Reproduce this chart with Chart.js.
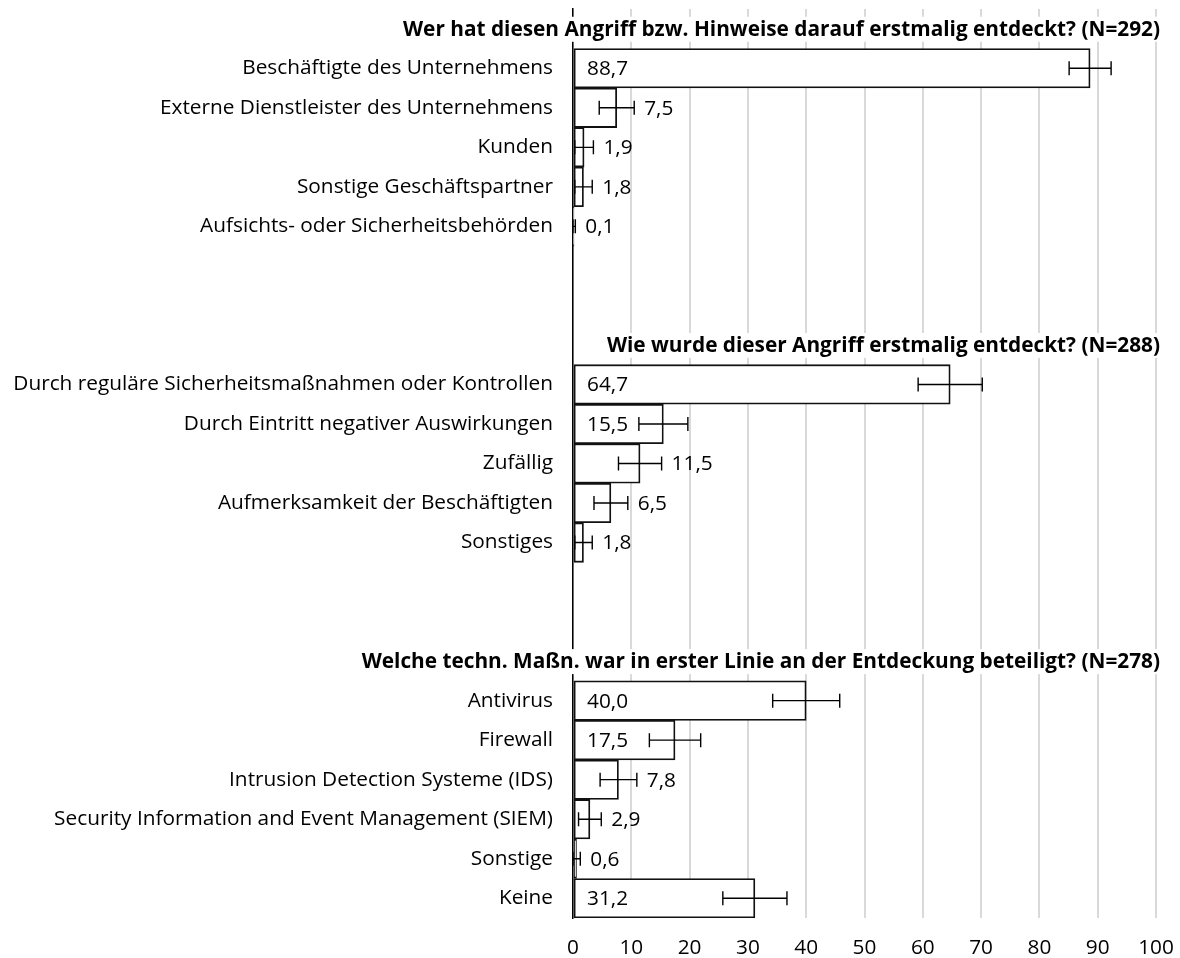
<!DOCTYPE html>
<html>
<head>
<meta charset="utf-8">
<script src="https://cdn.jsdelivr.net/npm/chart.js@4.4.1/dist/chart.umd.min.js"></script>
<style>
  html, body { margin: 0; padding: 0; background: #fff; }
  #wrap { width: 1180px; height: 958px; position: relative; }
</style>
</head>
<body>
<div id="wrap"><canvas id="chart"></canvas></div>
<script>
// question titles, one per block
const groupTitles = [
    'Wer hat diesen Angriff bzw. Hinweise darauf erstmalig entdeckt? (N=292)',
    'Wie wurde dieser Angriff erstmalig entdeckt? (N=288)',
    'Welche techn. Maßn. war in erster Linie an der Entdeckung beteiligt? (N=278)'
];

const labelsWho = ['Beschäftigte des Unternehmens', 'Externe Dienstleister des Unternehmens', 'Kunden', 'Sonstige Geschäftspartner', 'Aufsichts- oder Sicherheitsbehörden'];
const valuesWho = [88.7, 7.5, 1.9, 1.8, 0.1];
const errorsWho = [3.6, 3.0, 1.6, 1.5, 0.3];

const labelsHow = ['Durch reguläre Sicherheitsmaßnahmen oder Kontrollen', 'Durch Eintritt negativer Auswirkungen', 'Zufällig', 'Aufmerksamkeit der Beschäftigten', 'Sonstiges'];
const valuesHow = [64.7, 15.5, 11.5, 6.5, 1.8];
const errorsHow = [5.5, 4.2, 3.7, 2.9, 1.5];

const labelsTech = ['Antivirus', 'Firewall', 'Intrusion Detection Systeme (IDS)', 'Security Information and Event Management (SIEM)', 'Sonstige', 'Keine'];
const valuesTech = [40.0, 17.5, 7.8, 2.9, 0.6, 31.2];
const errorsTech = [5.75, 4.4, 3.15, 1.95, 0.65, 5.5];

const xMin = 0, xMax = 100, xStep = 10;

const FONT = '"Open Sans", sans-serif';
const FONT_SIZE = 20.8;

// flatten the three blocks into one category axis (title row + items + 2 spacer rows)
const groups = [
    { labels: labelsWho, values: valuesWho, errors: errorsWho },
    { labels: labelsHow, values: valuesHow, errors: errorsHow },
    { labels: labelsTech, values: valuesTech, errors: errorsTech }
];
const rowLabels = [], rowValues = [], rowErrors = [], rowTitles = [];
groups.forEach((g, gi) => {
    rowLabels.push(''); rowValues.push(null); rowErrors.push(null); rowTitles.push(groupTitles[gi]);
    g.labels.forEach((l, i) => {
        rowLabels.push(l); rowValues.push(g.values[i]); rowErrors.push(g.errors[i]); rowTitles.push(null);
    });
    if (gi < groups.length - 1) {
        for (let k = 0; k < 2; k++) {
            rowLabels.push(''); rowValues.push(null); rowErrors.push(null); rowTitles.push(null);
        }
    }
});

const fmt = v => v.toFixed(1).replace('.', ',');

const overlayPlugin = {
    id: 'overlay',
    afterDatasetsDraw(chart) {
        const ctx = chart.ctx;
        const xs = chart.scales.x, ys = chart.scales.y;
        const area = chart.chartArea;
        ctx.save();
        // error bars
        ctx.strokeStyle = '#000';
        ctx.lineWidth = 1.4;
        rowValues.forEach((v, i) => {
            if (v == null) return;
            const y = ys.getPixelForValue(i);
            const lo = xs.getPixelForValue(Math.max(0, v - rowErrors[i]));
            const hi = xs.getPixelForValue(v + rowErrors[i]);
            ctx.beginPath();
            ctx.moveTo(lo, y); ctx.lineTo(hi, y);
            ctx.moveTo(lo, y - 7); ctx.lineTo(lo, y + 7);
            ctx.moveTo(hi, y - 7); ctx.lineTo(hi, y + 7);
            ctx.stroke();
        });
        // value labels
        ctx.fillStyle = '#000';
        ctx.font = FONT_SIZE + 'px ' + FONT;
        ctx.textBaseline = 'middle';
        ctx.textAlign = 'left';
        rowValues.forEach((v, i) => {
            if (v == null) return;
            const y = ys.getPixelForValue(i);
            let x;
            if (v >= 15) x = area.left + 14;
            else x = xs.getPixelForValue(v + rowErrors[i]) + 10;
            ctx.fillText(fmt(v), x, y + 1);
        });
        // block titles with white backing (hides grid + axis line behind)
        ctx.font = 'bold ' + FONT_SIZE + 'px ' + FONT;
        ctx.textAlign = 'right';
        rowTitles.forEach((t, i) => {
            if (!t) return;
            const y = ys.getPixelForValue(i);
            const xr = area.right + 4;
            const w = ctx.measureText(t).width;
            ctx.fillStyle = '#fff';
            ctx.fillRect(xr - w - 4, y - 12, w + 8, 25);
            ctx.fillStyle = '#000';
            ctx.fillText(t, xr, y + 1);
        });
        ctx.restore();
    }
};

new Chart(document.getElementById('chart').getContext('2d'), {
    type: 'bar',
    data: {
        labels: rowLabels,
        datasets: [{
            data: rowValues,
            backgroundColor: '#fff',
            borderColor: '#111',
            borderWidth: 1.8,
            borderSkipped: false,
            barPercentage: 1,
            categoryPercentage: 1
        }]
    },
    options: {
        indexAxis: 'y',
        responsive: true,
        maintainAspectRatio: false,
        animation: false,
        layout: { padding: { top: 9, right: 24, bottom: 0, left: 0 } },
        plugins: { legend: { display: false }, tooltip: { enabled: false } },
        scales: {
            x: {
                min: xMin, max: xMax,
                ticks: { stepSize: xStep, color: '#000', font: { family: FONT, size: FONT_SIZE }, padding: 18 },
                grid: { color: '#d9d9d9', lineWidth: 2, drawTicks: false },
                border: { display: false },
                afterFit(s) { s.height = 40; s.paddingLeft = 0; s.paddingRight = 0; }
            },
            y: {
                ticks: { color: '#000', font: { family: FONT, size: FONT_SIZE }, padding: 20, autoSkip: false },
                grid: { display: false, drawTicks: false },
                border: { display: true, color: '#000', width: 1.5 },
                afterFit(s) { s.width = 573; s.paddingTop = 0; s.paddingBottom = 0; }
            }
        }
    },
    plugins: [overlayPlugin]
});
</script>
</body>
</html>
